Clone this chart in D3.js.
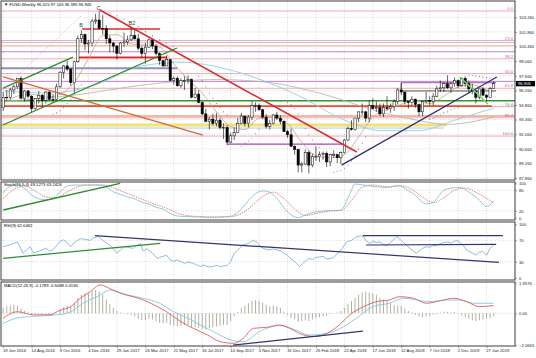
<!DOCTYPE html>
<html><head><meta charset="utf-8">
<script src="https://cdn.jsdelivr.net/npm/d3@7/dist/d3.min.js"></script>
<style>html,body{margin:0;padding:0;background:#fff;overflow:hidden}text{font-family:"Liberation Sans",Arial,sans-serif}</style>
</head><body><svg id="c" width="536" height="358"></svg>
<script>
// ---------- DATA ----------
const tickWeeks = [0,8,16,24,32,40,48,56,64,72,80,88,96,104,112,120,128,136];
const tickLabels = ["19 Jun 2016","14 Aug 2016","9 Oct 2016","4 Dec 2016","29 Jan 2017","26 Mar 2017","21 May 2017","16 Jul 2017","10 Sep 2017","5 Nov 2017","31 Dec 2017","25 Feb 2018","22 Apr 2018","17 Jun 2018","12 Aug 2018","7 Oct 2018","2 Dec 2018","27 Jan 2019"];
const priceTicks = [103.26,101.86,100.46,99.06,97.66,96.26,94.86,93.46,92.06,90.66,89.26,87.86];
const lastPrice = 96.905;

const open = [94.6,95.6,95.6,96.3,96.6,97.4,95.5,96.2,95.7,94.5,
95.5,95.8,95.3,96.1,95.4,95.4,96.6,98.0,98.6,98.3,
97.0,99.0,101.2,101.6,100.7,100.8,102.9,103.0,102.2,102.2,
101.2,100.8,100.5,99.8,100.8,100.9,101.1,101.5,101.2,100.3,
99.8,100.4,101.1,100.5,99.8,99.1,98.6,99.2,97.2,97.4,
96.7,97.2,97.2,97.3,95.6,95.9,95.1,94.0,93.3,93.5,
93.1,93.4,92.7,92.7,91.3,91.9,92.2,93.1,93.8,93.1,
93.7,94.8,94.8,94.4,93.7,92.8,93.1,93.9,93.6,93.3,
92.3,92.0,90.9,90.6,89.1,89.2,90.3,89.1,89.9,89.9,
90.1,90.2,89.4,90.1,90.1,89.8,90.3,91.5,92.6,92.5,
93.6,94.2,94.2,93.6,94.8,94.5,94.6,94.0,94.6,94.5,
94.7,95.2,96.3,96.1,95.2,95.1,95.4,94.9,94.2,95.2,
95.3,95.2,95.7,96.4,96.5,96.9,96.5,96.9,97.2,96.7,
97.4,96.9,96.4,96.2,95.6,96.4,95.8,95.6,96.415];
const high = [96.1,96.3,96.5,96.8,97.4,97.6,96.3,96.3,95.8,95.5,
96.2,95.9,96.2,96.2,95.9,96.9,98.1,98.7,99.1,98.4,
99.1,101.5,102.0,101.7,101.1,103.1,103.6,103.85,103.5,102.5,
101.5,100.9,100.6,100.9,101.8,101.5,102.3,102.2,101.7,100.5,
100.8,101.2,101.2,100.7,99.9,99.2,99.6,99.2,97.6,97.6,
97.4,97.6,97.7,97.4,96.5,96.3,95.2,94.5,93.7,94.0,
94.1,93.6,93.1,92.9,92.2,92.7,93.6,94.1,93.8,93.9,
95.2,95.1,95.0,94.5,94.0,93.4,94.0,94.2,93.9,93.3,
92.5,92.6,91.0,90.6,89.4,90.6,90.5,90.2,90.9,90.4,
90.4,90.4,90.2,90.5,90.2,90.4,91.6,92.8,93.4,93.6,
94.2,95.0,94.3,95.3,95.5,95.2,95.0,95.0,95.7,95.0,
95.4,96.5,96.99,96.1,95.2,95.7,95.5,95.0,95.3,96.1,
95.7,96.0,96.7,97.2,97.0,97.7,97.0,97.5,97.3,97.5,
97.6,97.2,96.9,96.3,96.4,96.6,95.9,96.6,97.105];
const low = [94.3,95.3,95.4,95.9,96.4,95.5,95.2,95.5,94.1,94.3,
95.0,94.6,95.0,95.3,95.1,95.3,96.5,97.4,98.1,96.7,
96.0,98.9,100.8,100.1,99.8,100.5,102.6,102.1,101.6,100.7,
99.9,99.9,99.2,99.7,100.4,100.6,101.0,101.1,100.1,99.4,
98.8,100.3,100.2,99.6,98.7,98.5,98.6,97.1,96.8,96.6,
96.5,96.3,96.9,95.5,95.5,95.0,93.9,93.2,92.5,92.9,
92.8,92.5,91.6,91.0,91.2,91.5,92.2,93.0,92.8,92.7,
93.4,94.2,94.3,93.5,92.6,92.5,93.0,93.4,93.0,92.3,
91.7,90.9,90.1,88.4,88.4,89.1,88.3,88.9,89.5,89.4,
89.6,88.9,89.0,89.8,89.3,89.2,90.2,91.4,92.4,92.4,
93.2,93.9,93.2,93.2,94.5,94.2,93.8,93.7,94.3,94.1,
94.3,94.9,95.8,94.9,94.5,94.8,94.6,93.8,93.8,95.0,
94.8,94.8,95.6,96.1,96.1,96.4,96.0,96.6,96.5,96.6,
96.6,96.0,95.9,95.0,95.4,95.7,95.2,95.6,96.395];
const close = [95.6,95.6,96.3,96.6,97.4,95.5,96.2,95.7,94.5,95.5,
95.8,95.3,96.1,95.4,95.4,96.6,98.0,98.6,98.3,97.0,
99.0,101.2,101.6,100.7,100.8,102.9,103.0,102.2,102.2,101.2,
100.8,100.5,99.8,100.8,100.9,101.1,101.5,101.2,100.3,99.8,
100.4,101.1,100.5,99.8,99.1,98.6,99.2,97.2,97.4,96.7,
97.2,97.2,97.3,95.6,95.9,95.1,94.0,93.3,93.5,93.1,
93.4,92.7,92.7,91.3,91.9,92.2,93.1,93.8,93.1,93.7,
94.8,94.8,94.4,93.7,92.8,93.1,93.9,93.6,93.3,92.3,
92.0,90.9,90.6,89.1,89.2,90.3,89.1,89.9,89.9,90.1,
90.2,89.4,90.1,90.1,89.8,90.3,91.5,92.6,92.5,93.6,
94.2,94.2,93.6,94.8,94.5,94.6,94.0,94.6,94.5,94.7,
95.2,96.3,96.1,95.2,95.1,95.4,94.9,94.2,95.2,95.3,
95.2,95.7,96.4,96.5,96.9,96.5,96.9,97.2,96.7,97.4,
96.9,96.4,96.2,95.6,96.4,95.8,95.6,96.415,96.905];

// moving averages (week, price)
const maTan = [[0,95.0],[4,95.7],[8,95.9],[12,95.6],[16,95.9],[20,97.0],[24,99.3],[28,101.5],[32,101.6],[36,100.7],[40,100.6],[44,100.4],[48,98.8],[52,97.3],[56,96.0],[60,94.2],[64,92.8],[68,92.5],[72,93.6],[76,93.7],[80,93.1],[84,91.3],[88,90.0],[92,89.8],[96,90.1],[100,91.8],[104,93.7],[108,94.4],[112,94.9],[116,95.3],[120,95.0],[124,95.7],[128,96.6],[132,96.8],[136,96.3],[138,96.1]];
const maBlue = [[0,96.2],[13,96.0],[26,96.8],[39,98.6],[50,98.95],[64,98.2],[75,96.95],[84,95.6],[93,93.9],[99,93.0],[106,92.4],[117,92.4],[127,93.4],[138,94.55]];
const maGray = [[0,95.2],[20,95.8],[40,96.8],[60,97.3],[75,97.0],[90,95.9],[105,94.3],[115,93.5],[125,93.0],[138,93.7]];

// parabolic SAR dots (week, price)
const sar = [[14,94.0],[15,94.1],[16,94.3],[17,94.6],[18,95.0],[19,95.4],[20,95.9],[21,96.4],[22,96.8],
[30,103.7],[32,103.4],[34,103.1],[36,102.8],[38,102.4],[40,101.9],[42,101.5],[44,101.1],[46,100.8],[48,100.5],
[55,97.6],[56,97.2],[57,96.6],[58,96.0],[59,95.5],[60,95.0],[61,94.6],[62,94.2],[63,93.9],
[67,90.9],[68,91.2],[69,91.4],[70,91.7],[71,92.1],[72,92.5],
[80,95.1],[81,94.9],[82,94.5],[83,94.0],[84,93.3],[85,92.6],[86,92.0],[87,91.5],[88,91.1],[89,90.8],
[93,88.4],[94,88.5],[95,88.6],[96,88.8],[97,89.1],[98,89.5],[99,90.0],[100,90.6],[101,91.2],[102,91.8],
[120,93.5],[121,93.6],[122,93.8],[123,93.9],[124,94.1],[125,94.2],[126,94.4],[127,94.5],[128,94.6],
[131,97.75],[132,97.7],[133,97.65],[134,97.6],[135,97.55],[136,97.5],[137,97.45],[138,97.4]];

// fibonacci
const fibLevels = [0,23.6,38.2,50,61.8,76.4,85.4,100];
const fibLabels = ["0.0","23.6","38.2","50.0","61.8","76.4","85.4","100.0"];
const fibTop = 103.86, fibBottom = 91.88;

// horizontal levels
const levelPrice = [100.86,100.54,99.96,98.37,97.12,95.26,94.75,93.8,92.93,92.65,91.1,102.14,99.42,96.99,96.2];
const levelFrom  = [-2,-2,-2,-2,-2,-2,-2,-2,-2,-2,63,22.2,20.8,112,112];
const levelTo    = [146,146,146,49,146,146,137.5,146,124,124,95.6,44.1,46.1,138.7,138.7];
const levelStyle = [
 {c:'#c9b4e2',w:1},{c:'#f6caa4',w:1.6},{c:'#b586cc',w:1},{c:'#8f8fbb',w:2},
 {c:'#bd7dcc',w:1},{c:'#2f962f',w:1.6},{c:'#e0522a',w:1.6},{c:'#e57545',w:1},
 {c:'#f4df78',w:3},{c:'#a9cbe8',w:1},{c:'#b040c4',w:1.2},{c:'#e22a2a',w:1.6},
 {c:'#e22a2a',w:1.6},{c:'#a050b0',w:1},{c:'#505050',w:1}];

// trendlines (week, value)
const trendMain = [
 [[27.2,103.96],[99.5,90.35]],
 [[-0.1,92.94],[48.9,100.32]],
 [[0,96.48],[19.6,99.45]],
 [[0,97.54],[56.2,91.97]],
 [[95.2,89.1],[138.9,97.54]],
 [[128.5,97.54],[136.4,94.95]],
 [[-0.9,96.1],[22.2,103.48]]];
const trendMainStyle = [
 {c:'#d82c2c',w:1.5,d:null},{c:'#2f8a2f',w:1.3,d:null},{c:'#2f8a2f',w:1.3,d:null},
 {c:'#d8682e',w:1.3,d:null},{c:'#2e2e70',w:1.3,d:null},{c:'#6ad66a',w:1.6,d:null},
 {c:'#b0a0b8',w:0.7,d:'1,1.5'}];
const rectWeeks = [112,138.7];

const notes = ["B","C","B2"];
const notePos = [[21.9,102.35],[26.8,103.95],[36.2,102.55]];

// stochastic
const stochK = [[0,72],[2,92],[4,96],[6,85],[8,66],[10,55],[12,52],[14,55],[16,75],[18,92],[20,95],[22,95],[25,95],[27,95],[29,90],[31,75],[33,68],[35,60],[37,55],[39,45],[41,40],[43,30],[45,25],[47,12],[49,5],[52,3],[55,2],[58,1],[61,2],[63,3],[65,8],[67,25],[69,50],[71,70],[73,78],[75,74],[77,56],[80,17],[83,0],[85,8],[88,17],[91,20],[93,21],[95,22],[97.5,69],[99,98],[102,94],[105,90],[108,88],[111.5,94],[113,85],[115.5,69],[119,40],[121,45],[124,80],[126,86],[128.5,88],[131,75],[134,51],[136,32],[138,49]];
const stochD = [[0,55],[3,82],[6,92],[9,78],[12,60],[15,58],[18,75],[21,90],[24,95],[28,95],[31,87],[34,74],[37,62],[40,50],[43,38],[46,27],[49,13],[52,6],[56,3],[60,2],[64,3],[67,12],[70,35],[73,62],[76,74],[79,55],[82,25],[85,6],[88,12],[92,19],[95,21],[98,50],[101,88],[104,95],[108,90],[112,92],[115,82],[118,60],[121,44],[124,58],[127,80],[130,86],[133,74],[136,56],[138,43]];
const stochTicks = [100,80,20,0];
const stochTrend = [[0,22.4],[32.9,100]];

// RSI
const rsi = [[0,58],[1,60],[2,62],[3,64],[4,67],[5.6,46],[6.5,52],[7.6,58],[8.5,46],[10,50],[11,52],[12,55],[13,50],[14,52],[15,60],[16,68],[17,71],[18,66],[19,58],[20,66],[21.7,73],[23,72],[24.5,70],[25.5,75],[26.8,77],[28,70],[29.3,64],[30.5,58],[32,46],[33,52],[34,58],[35,57],[36.6,55],[37.5,60],[38.6,64],[39.4,50],[40.5,54],[42,46],[43.4,36],[44,38],[45,40],[46,42],[47,33],[48,31],[49,33],[50,30],[51,27],[52,29],[53.5,27],[54.5,24],[55.5,21],[56.5,24],[57,22],[58,20],[59,21],[60,23],[61,21],[62,22],[63,23],[64,30],[65,46],[66,52],[67.6,62],[69,64],[70.4,70],[71.5,66],[72.4,58],[73.5,54],[75,52],[76,54],[77,52],[78,50],[79,46],[80,42],[81,35],[82,30],[83.4,21],[84.5,28],[86,36],[87,34],[88,38],[89,39],[90,40],[91,35],[92,36],[93,38],[94.6,49],[95.5,56],[96.6,67],[98,70],[99.4,77],[100.5,78],[101.4,77],[102,70],[103,64],[104,68],[105,66],[106,67],[107,62],[108,60],[109,66],[110.7,77],[112,70],[113.5,60],[115,52],[116.3,46],[117,50],[118,55],[119,58],[120,57],[121,60],[122,60],[123,64],[124.8,67],[126,65],[127.6,70],[128.5,66],[129.5,60],[130.4,52],[131.5,48],[133,42],[134,48],[135,49],[136,42],[137,55],[138,62]];
const rsiTicks = [100,70,30,0];
const rsiTrends = [[[0,36.3],[44.2,64.4]],[[25.8,78.7],[139.5,28.8]],[[101.2,78.7],[140.6,78.7]],[[102.1,61.2],[138.7,62.5]]];

// MACD
const macdHist = [0.35,0.45,0.5,0.55,0.5,
0.3,0.15,0.05,-0.1,-0.1,-0.05,-0.1,-0.05,-0.1,-0.1,0.0,
0.2,0.4,0.5,0.45,0.7,1.0,1.2,1.3,1.3,1.45,1.5,1.4,
1.2,0.9,0.6,0.35,0.15,0.05,
0.0,-0.05,-0.1,-0.2,-0.35,-0.45,-0.45,-0.35,-0.4,-0.5,-0.6,-0.65,-0.6,-0.75,-0.8,-0.85,-0.8,-0.75,-0.75,-0.9,-0.9,-0.95,-1.0,-1.05,-0.95,-0.9,-0.85,-0.8,-0.75,-0.75,-0.5,
-0.2,0.1,0.35,0.5,0.65,0.8,0.85,0.8,0.7,0.55,0.45,0.5,0.45,0.35,
0.1,-0.1,-0.3,-0.4,-0.55,-0.5,-0.45,-0.5,-0.4,-0.3,-0.25,-0.2,-0.15,-0.05,0.0,
0.05,0.15,0.35,0.6,0.8,1.0,1.2,1.35,1.4,1.35,1.3,1.2,1.0,0.9,0.8,0.65,0.55,0.5,0.45,0.3,0.15,0.05,
-0.1,-0.2,-0.25,-0.2,-0.15,-0.1,-0.05,0.05,0.1,
0.1,0.05,0.1,0.0,
-0.15,-0.25,-0.35,-0.45,-0.5,-0.45,-0.4,-0.35,-0.3,-0.2];
const macdRed = [[0,-0.32],[4,0.1],[8.5,-0.1],[13,-0.1],[16,0.2],[19,0.43],[21.7,0.97],[24.5,1.4],[27.3,1.83],[30,1.6],[33,1.29],[36.6,1.07],[39.4,0.86],[43.4,0.43],[46,0.1],[50,-0.54],[53.5,-0.97],[57.5,-1.4],[61,-1.83],[65,-1.94],[67.6,-1.6],[70.4,-0.97],[74.4,-0.9],[77.7,-0.75],[80.6,-0.97],[84.5,-1.4],[88,-1.5],[92,-1.18],[94.6,-0.75],[97.5,-0.1],[101.4,0.43],[105,0.75],[108.7,0.86],[111.5,1.07],[115.5,0.97],[119,0.65],[122.8,0.8],[126.8,0.97],[130.4,0.75],[134,0.43],[138,0.5]];
const macdBlue = [[0,-0.65],[4,-0.3],[8.5,-0.2],[15,-0.1],[19,0.1],[22.5,0.65],[27.3,1.18],[30,1.5],[35,1.18],[39.4,0.97],[44,0.65],[48,0.1],[52,-0.32],[55.5,-0.75],[60,-1.29],[64,-1.72],[67.6,-1.83],[72,-1.2],[75,-0.9],[78,-0.8],[82,-1.05],[86,-1.4],[91,-1.3],[95.8,-0.86],[99.4,-0.32],[104,0.43],[108.7,0.65],[112.7,0.97],[116.3,0.86],[120,0.75],[124.8,0.86],[128.5,0.86],[132.4,0.65],[138,0.65]];
const macdTicks = [1.9376,0,-2.0665];
const macdTrend = [[64.7,-2.05],[101.2,-1.15]];

const titleMain = "\u25BC FUSD,Weekly  96.415 97.105 96.395 96.905";
const titleStoch = "Stoch(15,5,4) 49.1273 43.2426";
const titleRsi = "RSI(9) 62.0462";
const titleMacd = "MACD(12,26,9) -0.1789 -0.5088 0.4194";

// ---------- DRAW ----------
const svg = d3.select('#c');
const XL = 1, XR = 515;
const P = {main:[1,180], stoch:[182,220], rsi:[222,280], macd:[282,346]};
const x = d3.scaleLinear().domain([0,138]).range([3.2, 3.2 + 138*3.554]);
const yM = d3.scaleLinear().domain([87.86,103.26]).range([178,17.3]);
const yS = d3.scaleLinear().domain([0,100]).range([217.7,183.3]);
const yR = d3.scaleLinear().domain([0,100]).range([277.7,224.3]);
const yD = d3.scaleLinear().domain([-2.0665,1.9376]).range([345.3,283.3]);

svg.append('rect').attr('width',536).attr('height',358).attr('fill','#fff');
const defs = svg.append('defs');
Object.entries(P).forEach(([k,[t,b]])=>{
  defs.append('clipPath').attr('id','cl-'+k).append('rect')
    .attr('x',XL).attr('y',t).attr('width',XR-XL).attr('height',b-t);
});
function panel(k){ return svg.append('g').attr('clip-path','url(#cl-'+k+')'); }

const FS = 4.2;
const gridC = '#bdbdbd';

// grid
Object.entries(P).forEach(([k,[t,b]])=>{
  const g = panel(k);
  g.selectAll('line.v').data(tickWeeks).join('line')
    .attr('x1',d=>x(d)).attr('x2',d=>x(d)).attr('y1',t).attr('y2',b)
    .attr('stroke',gridC).attr('stroke-width',0.6).attr('stroke-dasharray','1,1.6');
});
const gM = panel('main');
gM.selectAll('line.h').data(priceTicks).join('line')
  .attr('x1',XL).attr('x2',XR).attr('y1',d=>yM(d)).attr('y2',d=>yM(d))
  .attr('stroke',gridC).attr('stroke-width',0.6).attr('stroke-dasharray','1,1.6');

// fibonacci lines
const fibPrice = fibLevels.map(l => fibTop - (fibTop-fibBottom)*l/100);
gM.selectAll('line.fib').data(fibPrice).join('line')
  .attr('x1',XL).attr('x2',XR).attr('y1',d=>yM(d)).attr('y2',d=>yM(d))
  .attr('stroke','#eca2b6').attr('stroke-width',0.9);

// horizontal levels
levelPrice.forEach((p,i)=>{
  gM.append('line').attr('x1',x(levelFrom[i])).attr('x2',x(levelTo[i]))
    .attr('y1',yM(p)).attr('y2',yM(p))
    .attr('stroke',levelStyle[i].c).attr('stroke-width',levelStyle[i].w);
});
gM.append('line').attr('x1',x(rectWeeks[0])).attr('x2',x(rectWeeks[0]))
  .attr('y1',yM(levelPrice[13])).attr('y2',yM(levelPrice[14])).attr('stroke','#606060').attr('stroke-width',0.8);
// yellow arrow tip
gM.append('path').attr('d',`M${x(levelTo[8])},${yM(levelPrice[8])-2.2}L${x(levelTo[8])+4},${yM(levelPrice[8])}L${x(levelTo[8])},${yM(levelPrice[8])+2.2}Z`).attr('fill','#f4df78');

// moving averages
const lineM = d3.line().x(d=>x(d[0])).y(d=>yM(d[1])).curve(d3.curveMonotoneX);
gM.append('path').attr('d',lineM(maGray)).attr('fill','none').attr('stroke','#b8b0a0').attr('stroke-width',0.8);
gM.append('path').attr('d',lineM(maBlue)).attr('fill','none').attr('stroke','#8fd0e0').attr('stroke-width',0.9);
gM.append('path').attr('d',lineM(maTan)).attr('fill','none').attr('stroke','#c9a27e').attr('stroke-width',0.8);

// candles
const idx = d3.range(close.length);
const bw = 2.3;
gM.selectAll('line.wick').data(idx).join('line')
  .attr('x1',i=>x(i)).attr('x2',i=>x(i)).attr('y1',i=>yM(high[i])).attr('y2',i=>yM(low[i]))
  .attr('stroke','#000').attr('stroke-width',0.6);
gM.selectAll('rect.body').data(idx).join('rect')
  .attr('x',i=>x(i)-bw/2).attr('width',bw)
  .attr('y',i=>yM(Math.max(open[i],close[i])))
  .attr('height',i=>Math.max(0.6,Math.abs(yM(open[i])-yM(close[i]))))
  .attr('fill',i=>close[i]>=open[i]?'#fff':'#000')
  .attr('stroke','#000').attr('stroke-width',0.5);

// SAR
gM.selectAll('circle.sar').data(sar).join('circle')
  .attr('cx',d=>x(d[0])).attr('cy',d=>yM(d[1])).attr('r',0.55).attr('fill','#7d6e9a');

// trendlines
const lineS = d3.line().x(d=>x(d[0])).y(d=>yM(d[1]));
trendMain.forEach((t,i)=>{
  const s = trendMainStyle[i];
  const p = gM.append('path').attr('d',lineS(t)).attr('fill','none').attr('stroke',s.c).attr('stroke-width',s.w);
  if(s.d) p.attr('stroke-dasharray',s.d);
});

// notes
notes.forEach((n,i)=>{
  gM.append('text').attr('x',x(notePos[i][0])).attr('y',yM(notePos[i][1]))
    .attr('text-anchor','middle').attr('font-size',5.5).attr('fill','#3a3a3a').text(n);
});

// fib labels
gM.selectAll('text.fib').data(fibPrice).join('text')
  .attr('x',XR-2).attr('y',d=>yM(d)-0.9).attr('text-anchor','end')
  .attr('font-size',FS).attr('fill','#c46a86').text((d,i)=>fibLabels[i]);

gM.append('text').attr('x',4).attr('y',6).attr('font-size',FS).attr('fill','#000').text(titleMain);

// ---------- stochastic ----------
const gS = panel('stoch');
gS.selectAll('line.lv').data([80,20]).join('line')
  .attr('x1',XL).attr('x2',XR).attr('y1',d=>yS(d)).attr('y2',d=>yS(d))
  .attr('stroke',gridC).attr('stroke-width',0.6).attr('stroke-dasharray','1,1.6');
const lineSt = d3.line().x(d=>x(d[0])).y(d=>yS(d[1])).curve(d3.curveMonotoneX);
gS.append('path').attr('d',lineSt(stochD)).attr('fill','none').attr('stroke','#e04848').attr('stroke-width',0.7).attr('stroke-dasharray','1.5,1');
gS.append('path').attr('d',lineSt(stochK)).attr('fill','none').attr('stroke','#72bcd4').attr('stroke-width',0.8);
gS.append('path').attr('d',d3.line().x(d=>x(d[0])).y(d=>yS(d[1]))(stochTrend)).attr('fill','none').attr('stroke','#2f8a2f').attr('stroke-width',1.3);
gS.append('text').attr('x',4).attr('y',186).attr('font-size',FS).attr('fill','#000').text(titleStoch);

// ---------- RSI ----------
const gR = panel('rsi');
gR.selectAll('line.lv').data([70,30]).join('line')
  .attr('x1',XL).attr('x2',XR).attr('y1',d=>yR(d)).attr('y2',d=>yR(d))
  .attr('stroke',gridC).attr('stroke-width',0.6).attr('stroke-dasharray','1,1.6');
gR.append('path').attr('d',d3.line().x(d=>x(d[0])).y(d=>yR(d[1]))(rsi)).attr('fill','none').attr('stroke','#74acd8').attr('stroke-width',0.8);
rsiTrends.forEach((t,i)=>{
  gR.append('path').attr('d',d3.line().x(d=>x(d[0])).y(d=>yR(d[1]))(t)).attr('fill','none')
    .attr('stroke',i===0?'#2f8a2f':'#34346e').attr('stroke-width',1.2);
});
gR.append('text').attr('x',4).attr('y',226.5).attr('font-size',FS).attr('fill','#000').text(titleRsi);

// ---------- MACD ----------
const gD = panel('macd');
gD.append('line').attr('x1',XL).attr('x2',XR).attr('y1',yD(0)).attr('y2',yD(0))
  .attr('stroke',gridC).attr('stroke-width',0.6).attr('stroke-dasharray','1,1.6');
gD.selectAll('line.hist').data(idx).join('line')
  .attr('x1',i=>x(i)).attr('x2',i=>x(i)).attr('y1',yD(0)).attr('y2',i=>yD(macdHist[i]))
  .attr('stroke','#a7a797').attr('stroke-width',0.9);
const lineD = d3.line().x(d=>x(d[0])).y(d=>yD(d[1])).curve(d3.curveMonotoneX);
gD.append('path').attr('d',lineD(macdBlue)).attr('fill','none').attr('stroke','#7ccbdc').attr('stroke-width',0.9);
gD.append('path').attr('d',lineD(macdRed)).attr('fill','none').attr('stroke','#e05a5a').attr('stroke-width',0.9);
gD.append('path').attr('d',d3.line().x(d=>x(d[0])).y(d=>yD(d[1]))(macdTrend)).attr('fill','none').attr('stroke','#34346e').attr('stroke-width',1.2);
gD.append('text').attr('x',4).attr('y',286.5).attr('font-size',FS).attr('fill','#000').text(titleMacd);

// ---------- borders ----------
Object.values(P).forEach(([t,b])=>{
  svg.append('rect').attr('x',XL).attr('y',t).attr('width',XR-XL).attr('height',b-t)
    .attr('fill','none').attr('stroke','#3c3c3c').attr('stroke-width',1);
});

// ---------- axes ----------
function styleAxis(g){
  g.select('.domain').remove();
  g.selectAll('text').attr('font-size',FS).attr('fill','#222').attr('font-family','"Liberation Sans",Arial,sans-serif');
  g.selectAll('line').attr('stroke','#444').attr('stroke-width',0.5);
}
svg.append('g').attr('transform',`translate(${XR},0)`)
  .call(d3.axisRight(yM).tickValues(priceTicks).tickSize(2).tickPadding(2).tickFormat(d3.format('.3f')))
  .call(styleAxis);
svg.append('g').attr('transform',`translate(${XR},0)`)
  .call(d3.axisRight(yS).tickValues(stochTicks).tickSize(2).tickPadding(2).tickFormat(d3.format('d')))
  .call(styleAxis);
svg.append('g').attr('transform',`translate(${XR},0)`)
  .call(d3.axisRight(yR).tickValues(rsiTicks).tickSize(2).tickPadding(2).tickFormat(d3.format('d')))
  .call(styleAxis);
svg.append('g').attr('transform',`translate(${XR},0)`)
  .call(d3.axisRight(yD).tickValues(macdTicks).tickSize(2).tickPadding(2).tickFormat(d=>d===0?'0.00':d3.format('.4f')(d)))
  .call(styleAxis);
svg.append('g').attr('transform',`translate(0,${P.macd[1]})`)
  .call(d3.axisBottom(x).tickValues(tickWeeks).tickSize(2).tickPadding(1.5).tickFormat((d,i)=>tickLabels[i]))
  .call(styleAxis)
  .call(g=>g.selectAll('text').attr('text-anchor','start').attr('dx',-0.8));

// last price box
const lp = yM(lastPrice);
svg.append('rect').attr('x',XR+1).attr('y',lp-2.7).attr('width',19).attr('height',5.4).attr('fill','#000');
svg.append('text').attr('x',XR+3).attr('y',lp+1.5).attr('font-size',FS).attr('fill','#fff').text(d3.format('.3f')(lastPrice));
</script>
</body></html>
